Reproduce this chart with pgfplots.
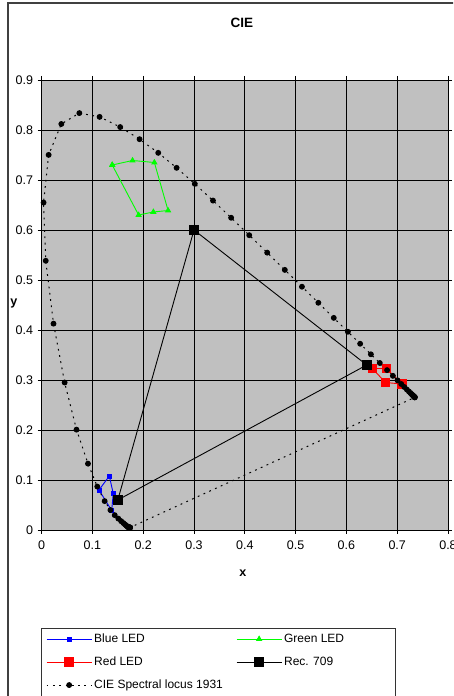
\documentclass[border=0pt]{standalone}
\usepackage{fontspec}
\setmainfont{Liberation Sans}
\usepackage{pgfplots}
\pgfplotsset{compat=1.18}
\definecolor{plotbg}{RGB}{192,192,192}
\pgfplotsset{
  legend image code/.code={\draw[mark repeat=2,mark phase=2,#1] plot coordinates {(0pt,0pt)(22.5pt,0pt)(45pt,0pt)};}
}
\begin{document}
\begin{tikzpicture}[x=1pt,y=1pt]
\useasboundingbox (0,0) rectangle (453,696);
\clip (0,0) rectangle (453,696);
\fill[white] (0,0) rectangle (453,696);
\draw[line width=1.3pt, black!75] (8,-20) -- (8,693) -- (480,693);
\begin{axis}[
  at={(41.6pt,166pt)}, anchor=south west,
  width=406.4pt, height=450pt, scale only axis,
  xmin=0, xmax=0.8, ymin=0, ymax=0.9,
  xtick={0,0.1,0.2,0.3,0.4,0.5,0.6,0.7,0.8},
  ytick={0,0.1,0.2,0.3,0.4,0.5,0.6,0.7,0.8,0.9},
  /pgf/number format/assume math mode=true,
  /pgf/number format/fixed, /pgf/number format/precision=1,
  grid=major, major grid style={black, line width=0.8pt},
  axis background/.style={fill=plotbg},
  tick align=outside, major tick length=4pt,
  tick style={black, line width=0.8pt},
  axis line style={black, line width=0.8pt},
  tick label style={font=\fontsize{12.5}{14}\selectfont},
  xticklabel style={yshift=-3pt},
  yticklabel style={xshift=-1pt},
  title={CIE},
  title style={at={(axis description cs:0.493,1.113)}, anchor=center, font=\bfseries\fontsize{13.5}{15}\selectfont},
  xlabel={x},
  xlabel style={at={(axis description cs:0.495,-0.0956)}, anchor=center, font=\bfseries\fontsize{12.5}{14}\selectfont},
  ylabel={y},
  ylabel style={at={(axis description cs:-0.068,0.504)}, anchor=center, rotate=-90, font=\bfseries\fontsize{12.5}{14}\selectfont},
  legend columns=2,
  legend cell align=left,
  legend style={at={(axis description cs:-0.0015,-0.2180)}, anchor=north west,
    draw=black!80, fill=white, inner xsep=5pt, inner ysep=3pt,
    font=\fontsize{12}{14}\selectfont,
    nodes={inner sep=2pt, text height=9pt, text depth=2.5pt},
    /tikz/every even column/.append style={column sep=6pt},
    row sep=7.5pt},
]
\addplot[color=blue, line width=0.9pt, mark=square*, mark size=2pt, mark options={solid}]
  coordinates {(0.1333,0.108) (0.113,0.080) (0.138,0.039) (0.141,0.073) (0.1333,0.108)};
\addlegendentry{\makebox[134pt][l]{Blue LED}}
\addplot[color=green, line width=0.9pt, mark=triangle*, mark size=2.8pt, mark options={solid}]
  coordinates {(0.139,0.730) (0.179,0.739) (0.222,0.735) (0.249,0.639) (0.220,0.636) (0.191,0.630) (0.139,0.730)};
\addlegendentry{\makebox[104pt][l]{Green LED}}
\addplot[color=red, line width=0.9pt, mark=square*, mark size=4.3pt, mark options={solid}]
  coordinates {(0.651,0.323) (0.679,0.323) (0.709,0.292) (0.677,0.295) (0.651,0.323)};
\addlegendentry{\makebox[134pt][l]{Red LED}}
\addplot[color=black, line width=0.9pt, mark=square*, mark size=4.5pt, mark options={solid}]
  coordinates {(0.64,0.33) (0.30,0.60) (0.15,0.06) (0.64,0.33)};
\addlegendentry{\makebox[104pt][l]{Rec. 709}}
\addplot[color=black, line width=1pt, dash pattern=on 1.8pt off 4.5pt, mark=*, mark size=2.4pt, mark options={solid}]
  table[row sep=\\] {
x y\\
0.17411 0.00496\\
0.17401 0.00498\\
0.17380 0.00492\\
0.17356 0.00492\\
0.17334 0.00480\\
0.17302 0.00478\\
0.17258 0.00480\\
0.17209 0.00483\\
0.17141 0.00510\\
0.17030 0.00579\\
0.16888 0.00690\\
0.16690 0.00856\\
0.16441 0.01086\\
0.16110 0.01379\\
0.15664 0.01770\\
0.15099 0.02274\\
0.14396 0.02970\\
0.13550 0.03988\\
0.12412 0.05780\\
0.10959 0.08684\\
0.09129 0.13270\\
0.06871 0.20072\\
0.04539 0.29498\\
0.02346 0.41270\\
0.00817 0.53842\\
0.00386 0.65482\\
0.01387 0.75019\\
0.03885 0.81202\\
0.07430 0.83380\\
0.11416 0.82621\\
0.15472 0.80586\\
0.19288 0.78163\\
0.22962 0.75433\\
0.26578 0.72432\\
0.30160 0.69231\\
0.33736 0.65885\\
0.37310 0.62445\\
0.40874 0.58961\\
0.44406 0.55471\\
0.47877 0.52020\\
0.51249 0.48659\\
0.54479 0.45443\\
0.57515 0.42423\\
0.60293 0.39650\\
0.62704 0.37249\\
0.64823 0.35139\\
0.66576 0.33401\\
0.68008 0.31975\\
0.69150 0.30834\\
0.70061 0.29930\\
0.70792 0.29203\\
0.71403 0.28593\\
0.71903 0.28093\\
0.72303 0.27695\\
0.72599 0.27401\\
0.72827 0.27173\\
0.72997 0.27003\\
0.73109 0.26891\\
0.73199 0.26801\\
0.73272 0.26728\\
0.73342 0.26658\\
0.73405 0.26595\\
0.73439 0.26561\\
0.73459 0.26541\\
0.73469 0.26531\\
0.17411 0.00496\\
};
\addlegendentry{CIE Spectral locus 1931}
\end{axis}
\end{tikzpicture}
\end{document}
